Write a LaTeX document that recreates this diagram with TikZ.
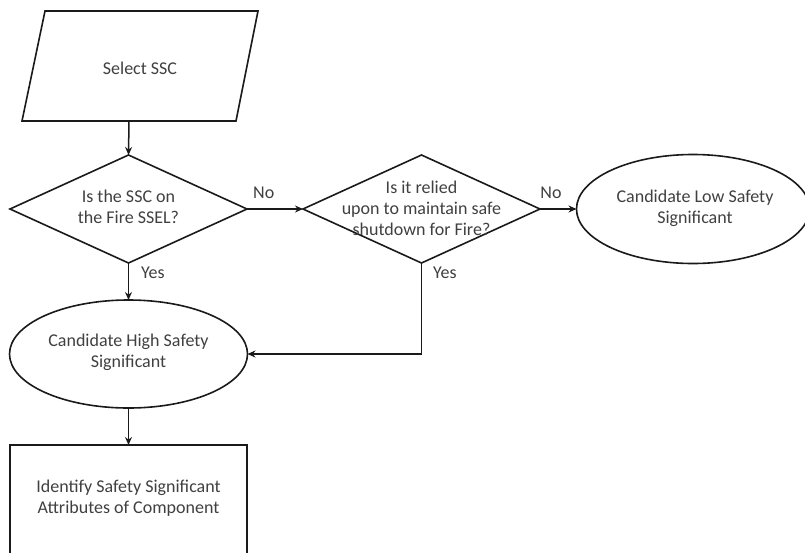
\documentclass[tikz,border=0pt]{standalone}
\usepackage{fontspec}
\setmainfont{Carlito}
\usetikzlibrary{shapes.geometric,arrows.meta}
\definecolor{txt}{HTML}{404040}
\definecolor{ln}{HTML}{1A1A1A}
\tikzset{
  shp/.style={draw=ln, line width=1.6pt, inner sep=0pt, outer sep=0pt},
  dia/.style={shp, diamond, minimum width=237pt, minimum height=108pt},
  ell/.style={shp, ellipse},
  lbl/.style={text=txt, font=\fontsize{18}{21}\selectfont, align=center, inner sep=0pt},
  flow/.style={draw=ln, line width=1.5pt, -{Stealth[length=8pt,width=7pt]}},
  plain/.style={draw=ln, line width=1.5pt}
}
\begin{document}
\begin{tikzpicture}[x=1pt,y=-1pt]
\useasboundingbox (0,0) rectangle (805,552);
% parallelogram
\coordinate (selb) at (129,121);
\draw[shp, line join=miter] (45,11) -- (258,11) -- (236,121) -- (22,121) -- cycle;
\node[lbl] (sel) at (140,68) {Select SSC};
% diamond 1
\node[dia] (d1) at (128.5,209) {};
\node[lbl] (d1t) at (128.5,207) {Is the SSC on\\the Fire SSEL?};
% diamond 2
\node[dia] (d2) at (421.5,209) {};
\node[lbl] (d2t) at (421.5,208) {Is it relied\\upon to maintain safe\\shutdown for Fire?};
% low ellipse
\node[ell, minimum width=233pt, minimum height=109pt] (low) at (693,209) {};
\node[lbl] (lowt) at (695,208) {Candidate Low Safety\\Significant};
% high ellipse
\node[ell, minimum width=238pt, minimum height=108pt] (high) at (128.5,354) {};
\node[lbl] (hight) at (128.5,352) {Candidate High Safety\\Significant};
% box
\node[shp, rectangle, minimum width=237pt, minimum height=112pt, anchor=north] (box) at (128.5,445) {};
\node[lbl] (boxt) at (128.5,498) {Identify Safety Significant\\Attributes of Component};
% connectors
\draw[flow] (selb) -- (d1.north);
\draw[flow] (d1.east) -- node[lbl, above=10pt, pos=0.3] (no1) {No} (d2.west);
\draw[flow] (d2.east) -- node[lbl, above=10pt, pos=0.3] (no2) {No} (low.west);
\draw[flow] (d1.south) -- (high.north);
\node[lbl, anchor=west] (yes1) at (141,273) {Yes};
\draw[flow] (high.south) -- (box.north);
\coordinate (corner) at (d2.south |- high.east);
\draw[plain] (d2.south) -- (corner);
\draw[flow] (corner) -- (high.east);
\node[lbl, anchor=west] (yes2) at (433,273) {Yes};
\end{tikzpicture}
\end{document}
